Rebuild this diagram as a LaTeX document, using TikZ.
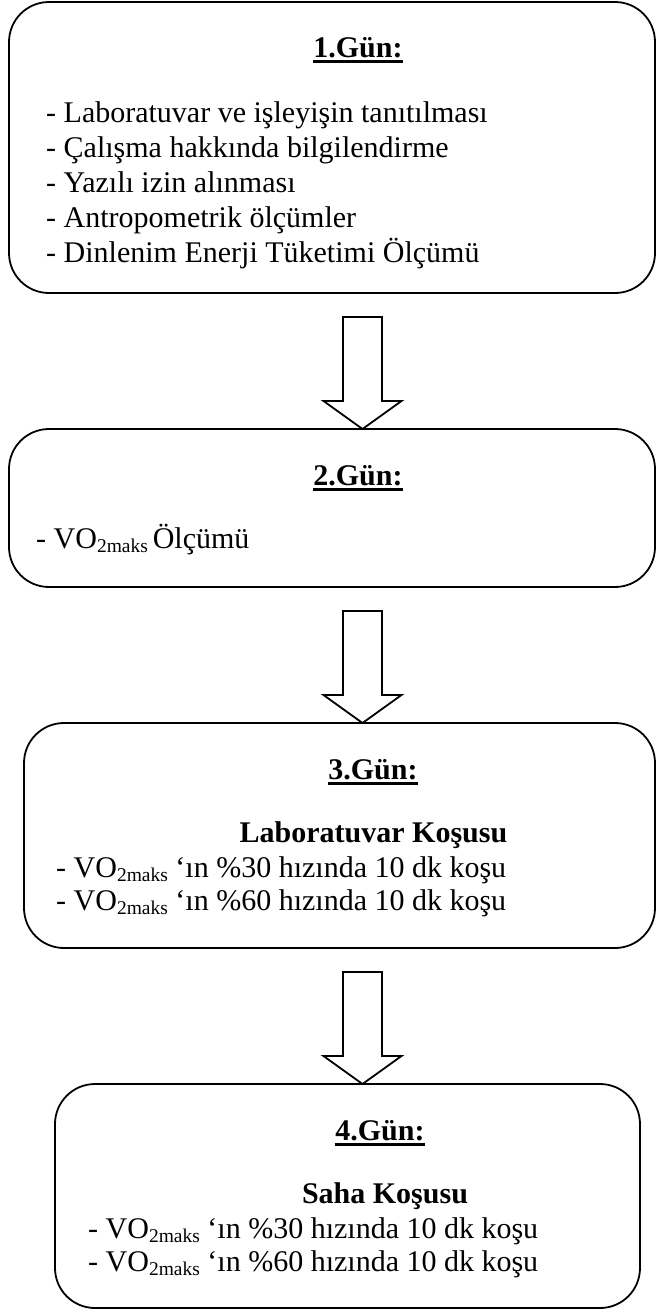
\documentclass[tikz,border=0pt]{standalone}
\usepackage{fontspec}
\setmainfont{Liberation Serif}
\usetikzlibrary{calc}
\tikzstyle{gunkutu} = [rectangle, draw, rounded corners=40pt, line width=1.8pt, inner sep=0pt, outer sep=0pt]
\tikzstyle{satir} = [anchor=base west, inner sep=0pt, font=\fontsize{30}{35}\selectfont]
\tikzstyle{baslik} = [anchor=base, inner sep=0pt, font=\fontsize{30}{35}\selectfont\bfseries]
\newcommand{\altcizgili}[1]{\setbox0\hbox{#1}\rlap{\rule[-5.5pt]{\wd0}{2.4pt}}\box0}
\newcommand{\vomaks}{VO\raisebox{-4pt}{\fontsize{19.5}{20}\selectfont 2maks}}
\newcommand{\okblok}[2]{\draw[line width=1.8pt, line join=miter] let \p1=(#1.south), \p2=(#2.north) in
  (343pt,\y1-24pt) -- (382pt,\y1-24pt) -- (382pt,\y1-108pt) -- (401.5pt,\y1-108pt)
  -- (362.5pt,\y2) -- (323.5pt,\y1-108pt) -- (343pt,\y1-108pt) -- cycle;}

\begin{document}
\begin{tikzpicture}[x=1pt,y=-1pt]
  \useasboundingbox (0,0) rectangle (656,1310);
  \draw (332,147.5)node[gunkutu, minimum width=646pt, minimum height=291pt](g1){};
  \draw (332,508)node[gunkutu, minimum width=646pt, minimum height=158pt](g2){};
  \draw (339.5,835.5)node[gunkutu, minimum width=631pt, minimum height=225pt](g3){};
  \draw (347.5,1196)node[gunkutu, minimum width=585pt, minimum height=224pt](g4){};
  \okblok{g1}{g2}
  \okblok{g2}{g3}
  \okblok{g3}{g4}
  % 1. gun
  \draw (358,57)node[baslik](b1){\altcizgili{1.Gün:}};
  \draw (46,122)node[satir](s11){- Laboratuvar ve işleyişin tanıtılması};
  \draw (46,157)node[satir](s12){- Çalışma hakkında bilgilendirme};
  \draw (46,192)node[satir](s13){- Yazılı izin alınması};
  \draw (46,227)node[satir](s14){- Antropometrik ölçümler};
  \draw (46,262)node[satir](s15){- Dinlenim Enerji Tüketimi Ölçümü};
  % 2. gun
  \draw (358,485)node[baslik](b2){\altcizgili{2.Gün:}};
  \draw (36,548)node[satir](s21){- \vomaks{\fontsize{19.5}{20}\selectfont\ }Ölçümü};
  % 3. gun
  \draw (373,779)node[baslik](b3){\altcizgili{3.Gün:}};
  \draw (373.5,842)node[baslik](a3){Laboratuvar Koşusu};
  \draw (56,877)node[satir](s31){- \vomaks\ ‘ın \%30 hızında 10 dk koşu};
  \draw (56,910)node[satir](s32){- \vomaks\ ‘ın \%60 hızında 10 dk koşu};
  % 4. gun
  \draw (380,1140)node[baslik](b4){\altcizgili{4.Gün:}};
  \draw (385,1203)node[baslik](a4){Saha Koşusu};
  \draw (88,1238)node[satir](s41){- \vomaks\ ‘ın \%30 hızında 10 dk koşu};
  \draw (88,1271)node[satir](s42){- \vomaks\ ‘ın \%60 hızında 10 dk koşu};
\end{tikzpicture}
\end{document}
